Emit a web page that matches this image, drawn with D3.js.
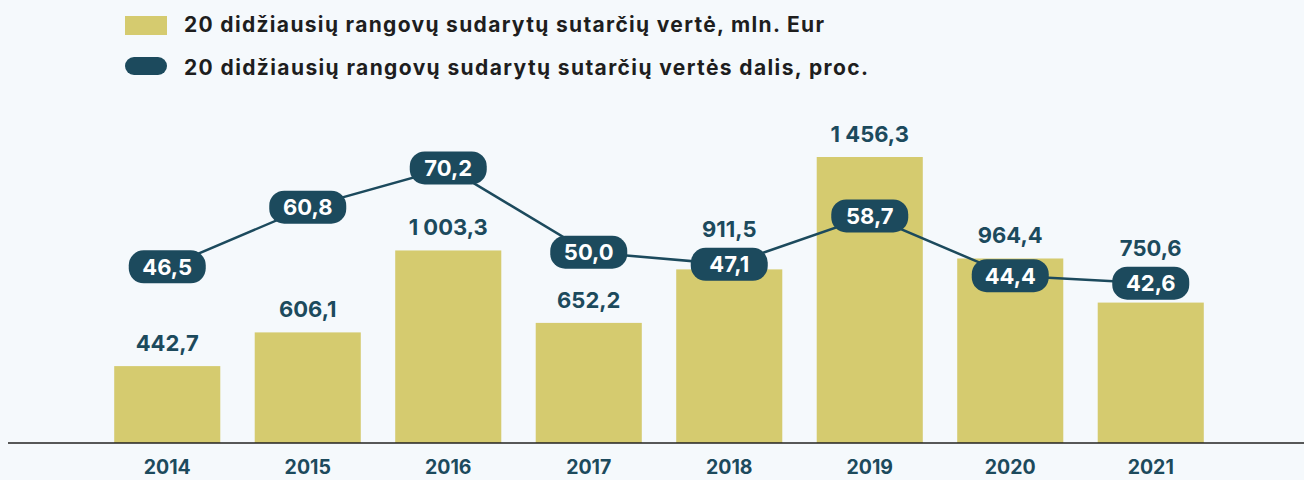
<!DOCTYPE html>
<html>
<head>
<meta charset="utf-8">
<script src="https://cdn.jsdelivr.net/npm/d3@7"></script>
<style>
  html, body { margin: 0; padding: 0; background: #f5f9fc; }
  svg { display: block; font-family: Inter, "Noto Sans", sans-serif; }
</style>
</head>
<body>
<div id="chart"></div>
<script>
// data
var years = ["2014", "2015", "2016", "2017", "2018", "2019", "2020", "2021"];
var contractValues = [442.7, 606.1, 1003.3, 652.2, 911.5, 1456.3, 964.4, 750.6];
var contractShares = [46.5, 60.8, 70.2, 50.0, 47.1, 58.7, 44.4, 42.6];
var legendLabels = [
  "20 didžiausių rangovų sudarytų sutarčių vertė, mln. Eur",
  "20 didžiausių rangovų sudarytų sutarčių vertės dalis, proc."
];

var w = 1304, h = 480;
var baseY = 443;
var barColor = "#d5cb6f";
var teal = "#1c4a5d";

var lt = d3.formatLocale({decimal: ",", thousands: " ", grouping: [3], currency: ["", ""]});
var fmt = lt.format(",.1f");

var svg = d3.select("#chart").append("svg")
  .attr("width", w)
  .attr("height", h);

svg.append("rect").attr("width", w).attr("height", h).attr("fill", "#f5f9fc");

var x = d3.scaleBand()
  .domain(years)
  .range([97, 1221])
  .paddingInner(0.245)
  .paddingOuter(0.1225);

var y = d3.scaleLinear()
  .domain([70, 1456.3])
  .range([baseY, 157]);

var yp = d3.scaleLinear()
  .domain([0, 100])
  .range([461, 43.5]);

// bars
svg.append("g").selectAll("rect")
  .data(contractValues)
  .enter().append("rect")
  .attr("x", function(d, i){ return x(years[i]); })
  .attr("y", function(d){ return y(d); })
  .attr("width", x.bandwidth())
  .attr("height", function(d){ return baseY - y(d); })
  .attr("fill", barColor);

// baseline
svg.append("line")
  .attr("x1", 8).attr("x2", w)
  .attr("y1", baseY).attr("y2", baseY)
  .attr("stroke", "#222").attr("stroke-width", 1.5);

// year labels
svg.append("g").selectAll("text")
  .data(years)
  .enter().append("text")
  .attr("x", function(d){ return x(d) + x.bandwidth() / 2; })
  .attr("y", 474)
  .attr("text-anchor", "middle")
  .attr("font-size", 19.5)
  .attr("font-weight", 700)
  .attr("fill", teal)
  .text(function(d){ return d; });

var pillW = 77, pillH = 33;
var cx = function(i){ return x(years[i]) + x.bandwidth() / 2; };

// bar value labels, lifted above the pill when they would collide
svg.append("g").selectAll("text")
  .data(contractValues)
  .enter().append("text")
  .attr("x", function(d, i){ return cx(i); })
  .attr("y", function(d, i){
    var base = y(d) - 15;
    var pTop = yp(contractShares[i]) - pillH / 2;
    var pBot = pTop + pillH;
    if (pBot > base - 19 && pTop < base + 5) base = pTop - 11;
    return base;
  })
  .attr("text-anchor", "middle")
  .attr("font-size", 22)
  .attr("font-weight", 700)
  .attr("fill", teal)
  .text(function(d){ return fmt(d); });

// line
var line = d3.line()
  .x(function(d, i){ return cx(i); })
  .y(function(d){ return yp(d); });

svg.append("path")
  .datum(contractShares)
  .attr("d", line)
  .attr("fill", "none")
  .attr("stroke", teal)
  .attr("stroke-width", 2.5);

var pills = svg.append("g").selectAll("g")
  .data(contractShares)
  .enter().append("g")
  .attr("transform", function(d, i){ return "translate(" + cx(i) + "," + yp(d) + ")"; });

pills.append("rect")
  .attr("x", -pillW / 2).attr("y", -pillH / 2)
  .attr("width", pillW).attr("height", pillH)
  .attr("rx", 15)
  .attr("fill", teal);

pills.append("text")
  .attr("y", 8)
  .attr("text-anchor", "middle")
  .attr("font-size", 22)
  .attr("font-weight", 700)
  .attr("fill", "#fff")
  .text(function(d){ return fmt(d); });

// legend
var legend = svg.append("g");
legend.append("rect")
  .attr("x", 125).attr("y", 16).attr("width", 42).attr("height", 19)
  .attr("fill", barColor);
legend.append("rect")
  .attr("x", 125).attr("y", 57).attr("width", 42).attr("height", 18)
  .attr("rx", 9)
  .attr("fill", teal);
legend.selectAll("text")
  .data(legendLabels)
  .enter().append("text")
  .attr("x", 184)
  .attr("y", function(d, i){ return i ? 75 : 32; })
  .attr("font-size", 21)
  .attr("font-weight", 700)
  .attr("fill", "#1e1e1e")
  .attr("textLength", function(d, i){ return i ? 684 : 640; })
  .attr("lengthAdjust", "spacing")
  .text(function(d){ return d; });
</script>
</body>
</html>
